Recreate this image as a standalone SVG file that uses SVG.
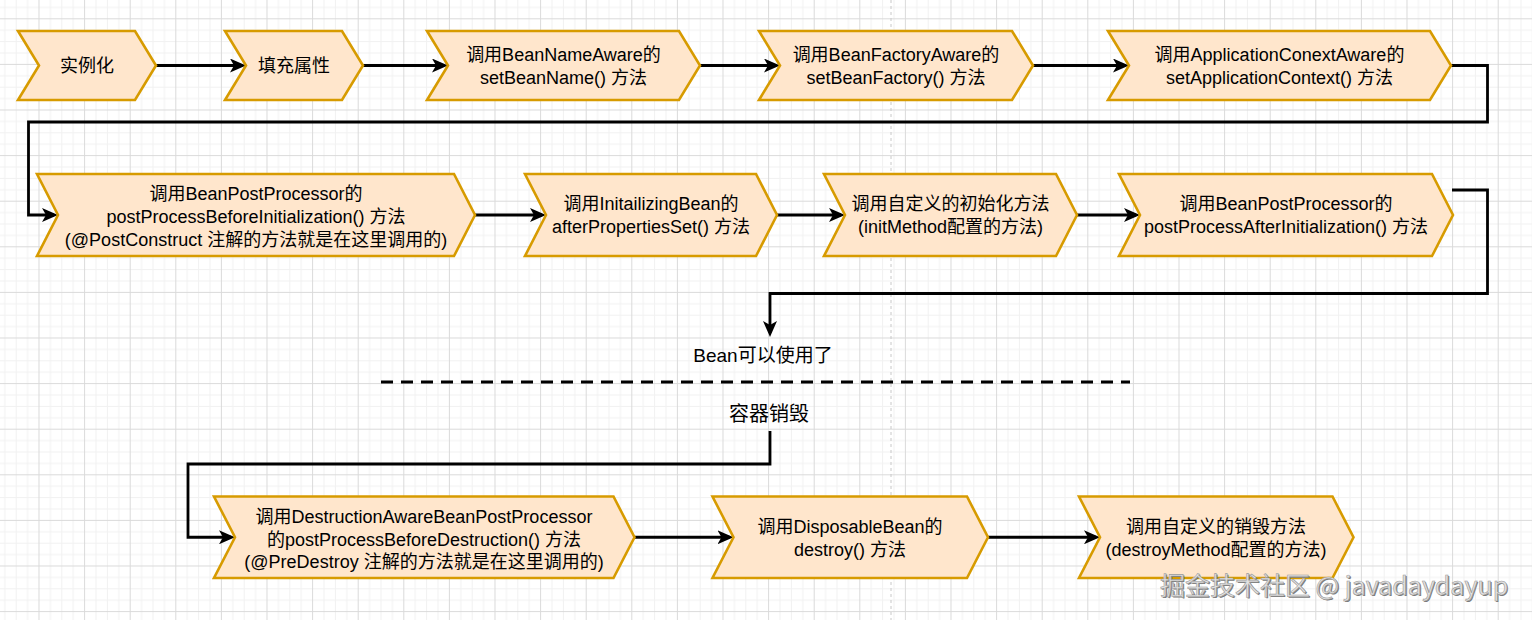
<svg xmlns="http://www.w3.org/2000/svg" width="1532" height="620" viewBox="0 0 1532 620">
<defs>
<pattern id="grid" patternUnits="userSpaceOnUse" x="-7.1" y="18.3" width="45.6" height="45.6">
<path d="M11.9 0V45.6M23.3 0V45.6M34.7 0V45.6M0 11.9H45.6M0 23.3H45.6M0 34.7H45.6" stroke="#f1f1f1" stroke-width="1" fill="none"/>
<path d="M0.5 0V45.6M0 0.5H45.6" stroke="#dadada" stroke-width="1" fill="none"/>
</pattern>
<marker id="arr" viewBox="0 0 16 14" refX="12" refY="7" markerWidth="16" markerHeight="14" markerUnits="userSpaceOnUse" orient="auto">
<path d="M0,0 L16,7 L0,14 L4,7 Z" fill="#000"/>
</marker>
<style>
.node{fill:#ffe6cc;stroke:#d79b00;stroke-width:2.6;stroke-linejoin:miter}
.t{font-family:"Liberation Sans","Noto Sans CJK SC",sans-serif;font-size:18px;fill:#000;text-anchor:middle}
.lbl{font-family:"Liberation Sans","Noto Sans CJK SC",sans-serif;fill:#000;text-anchor:middle}
.edge{fill:none;stroke:#000;stroke-width:2.8;stroke-linejoin:miter}
.wm{font-family:"Noto Sans CJK SC","Liberation Sans",sans-serif;font-size:25px}
</style>
</defs>
<rect width="1532" height="620" fill="#fff"/>
<rect width="1532" height="620" fill="url(#grid)"/>
<line x1="891" y1="0" x2="891" y2="620" stroke="#c8c8c8" stroke-width="1" stroke-dasharray="3 3"/>

<g id="connectors">
<path class="edge" marker-end="url(#arr)" d="M156,65.5 H242"/>
<path class="edge" marker-end="url(#arr)" d="M363,65.5 H444"/>
<path class="edge" marker-end="url(#arr)" d="M700,65.5 H776"/>
<path class="edge" marker-end="url(#arr)" d="M1033,65.5 H1125"/>
<path class="edge" marker-end="url(#arr)" d="M1451,65.5 H1487.5 V122 H28.5 V215 H54"/>
<path class="edge" marker-end="url(#arr)" d="M475,215 H542"/>
<path class="edge" marker-end="url(#arr)" d="M777,215 H841"/>
<path class="edge" marker-end="url(#arr)" d="M1077,215 H1136"/>
<path class="edge" marker-end="url(#arr)" d="M1452,190 H1487.5 V293.5 H770 V333"/>
<path class="edge" d="M770,431 V464 H188 V537.25 H231" marker-end="url(#arr)"/>
<path class="edge" marker-end="url(#arr)" d="M634.5,537.25 H729.5"/>
<path class="edge" marker-end="url(#arr)" d="M988,537.25 H1096"/>
<line x1="381" y1="382" x2="1130" y2="382" stroke="#000" stroke-width="3" stroke-dasharray="12 8"/>
</g>

<g id="n1"><polygon class="node" points="18,31 135,31 156,65.5 135,100 18,100 39,65.5"/><text class="t" x="87" y="72">实例化</text></g>
<g id="n2"><polygon class="node" points="225,31 342,31 363,65.5 342,100 225,100 246,65.5"/><text class="t" x="294" y="72">填充属性</text></g>
<g id="n3"><polygon class="node" points="427,31 679,31 700,65.5 679,100 427,100 448,65.5"/><text class="t" x="563.5" y="61">调用BeanNameAware的</text><text class="t" x="563.5" y="84">setBeanName() 方法</text></g>
<g id="n4"><polygon class="node" points="759,31 1012,31 1033,65.5 1012,100 759,100 780,65.5"/><text class="t" x="896" y="61">调用BeanFactoryAware的</text><text class="t" x="896" y="84">setBeanFactory() 方法</text></g>
<g id="n5"><polygon class="node" points="1108,31 1430,31 1451,65.5 1430,100 1108,100 1129,65.5"/><text class="t" x="1279.5" y="61">调用ApplicationConextAware的</text><text class="t" x="1279.5" y="84">setApplicationContext() 方法</text></g>

<g id="n6"><polygon class="node" points="37,174 454,174 475,215 454,256 37,256 58,215"/><text class="t" x="256" y="199.5">调用BeanPostProcessor的</text><text class="t" x="256" y="222.5">postProcessBeforeInitialization() 方法</text><text class="t" x="256" y="245.5">(@PostConstruct 注解的方法就是在这里调用的)</text></g>
<g id="n7"><polygon class="node" points="525,174 756,174 777,215 756,256 525,256 546,215"/><text class="t" x="651" y="210">调用InitailizingBean的</text><text class="t" x="651" y="233">afterPropertiesSet() 方法</text></g>
<g id="n8"><polygon class="node" points="824,174 1056,174 1077,215 1056,256 824,256 845,215"/><text class="t" x="950.5" y="210">调用自定义的初始化方法</text><text class="t" x="950.5" y="233">(initMethod配置的方法)</text></g>
<g id="n9"><polygon class="node" points="1119,174 1432,174 1453,215 1432,256 1119,256 1140,215"/><text class="t" x="1286" y="210">调用BeanPostProcessor的</text><text class="t" x="1286" y="233">postProcessAfterInitialization() 方法</text></g>

<g id="l1"><text class="lbl" x="763" y="362" font-size="19">Bean可以使用了</text></g>
<g id="l2"><text class="lbl" x="769" y="421" font-size="20">容器销毁</text></g>

<g id="n10"><polygon class="node" points="214,496.5 613.5,496.5 634.5,537.25 613.5,578 214,578 235,537.25"/><text class="t" x="424" y="523">调用DestructionAwareBeanPostProcessor</text><text class="t" x="424" y="545.5">的postProcessBeforeDestruction() 方法</text><text class="t" x="424" y="568">(@PreDestroy 注解的方法就是在这里调用的)</text></g>
<g id="n11"><polygon class="node" points="712.5,496.5 967,496.5 988,537.25 967,578 712.5,578 733.5,537.25"/><text class="t" x="850" y="533">调用DisposableBean的</text><text class="t" x="850" y="556">destroy() 方法</text></g>
<g id="n12"><polygon class="node" points="1079,496.5 1332.5,496.5 1353.5,537.25 1332.5,578 1079,578 1100,537.25"/><text class="t" x="1216" y="533">调用自定义的销毁方法</text><text class="t" x="1216" y="556">(destroyMethod配置的方法)</text></g>

<g id="watermark">
<text class="wm" x="1161.2" y="596.2" fill="#7a7a7a">掘金技术社区 @ javadaydayup</text>
<text class="wm" x="1160" y="595" fill="#e2e2e2" stroke="#9a9a9a" stroke-width="0.6">掘金技术社区 @ javadaydayup</text>
</g>
</svg>
